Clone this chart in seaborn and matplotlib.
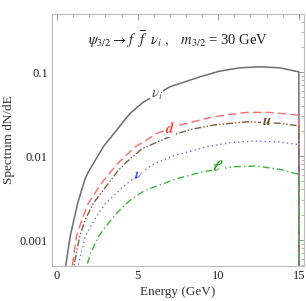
import numpy as np
import pandas as pd
import matplotlib
matplotlib.use("Agg")
import matplotlib.pyplot as plt
import seaborn as sns
from matplotlib.ticker import FixedLocator, NullFormatter, LogLocator

# ---- data (log10 of dN/dE) ----
END = -6.0  # spectrum vanishes beyond the kinematic endpoint E = 15 GeV

E_nui = [0.48, 0.54, 0.81, 1.28, 1.74, 1.94, 2.87, 4.53, 5.33, 7.00, 7.63, 8.87, 10.10, 11.35, 12.59, 13.82, 14.96, 15.0, 15.0]
L_nui = [-3.45, -3.306, -2.961, -2.563, -2.27, -2.19, -1.889, -1.492, -1.36, -1.175, -1.135, -1.056, -0.988, -0.949, -0.937, -0.949, -0.996, -0.998, END]

E_d = [0.90, 0.95, 1.20, 1.53, 1.94, 2.56, 2.85, 3.80, 4.85, 5.56, 6.18, 7.63, 9.69, 11.76, 13.20, 14.96, 15.0, 15.0]
L_d = [-3.45, -3.306, -2.961, -2.762, -2.563, -2.38, -2.30, -2.08, -1.889, -1.81, -1.73, -1.631, -1.532, -1.48, -1.48, -1.512, -1.513, END]

E_u = [1.00, 1.05, 1.40, 1.74, 2.25, 2.77, 3.29, 3.80, 4.32, 5.30, 6.49, 7.50, 8.25, 9.69, 11.76, 13.82, 14.96, 15.0, 15.0]
L_u = [-3.45, -3.306, -2.961, -2.762, -2.563, -2.43, -2.30, -2.17, -2.07, -1.91, -1.81, -1.73, -1.685, -1.631, -1.592, -1.61, -1.64, -1.641, END]

E_nu = [1.24, 1.30, 1.75, 2.30, 3.00, 4.22, 5.87, 7.32, 7.83, 9.28, 10.73, 12.17, 13.62, 14.76, 15.0, 15.0]
L_nu = [-3.45, -3.306, -2.961, -2.762, -2.563, -2.345, -2.107, -1.988, -1.968, -1.889, -1.841, -1.821, -1.829, -1.857, -1.865, END]

E_l = [1.76, 1.84, 2.10, 2.56, 3.18, 3.80, 4.50, 5.35, 6.28, 7.40, 9.07, 10.93, 12.38, 13.82, 14.76, 15.0, 15.0]
L_l = [-3.45, -3.306, -3.15, -2.961, -2.80, -2.66, -2.53, -2.42, -2.35, -2.27, -2.187, -2.127, -2.119, -2.158, -2.206, -2.215, END]

series = ["nu_i", "d", "u", "nu", "l"]
label_text = {"nu_i": r"$\nu_i$", "d": r"$\boldsymbol{d}$", "u": r"$\boldsymbol{u}$",
              "nu": r"$\boldsymbol{\nu}$", "l": r"$\boldsymbol{\ell}$"}
label_E = {"nu_i": 6.18, "d": 7.0, "u": 13.0, "nu": 5.04, "l": 10.0}
label_L = {"nu_i": -1.27, "d": -1.67, "u": -1.592, "nu": -2.226, "l": -2.127}

frames = []
for name, E, L in [("nu_i", E_nui, L_nui), ("d", E_d, L_d), ("u", E_u, L_u),
                   ("nu", E_nu, L_nu), ("l", E_l, L_l)]:
    frames.append(pd.DataFrame({"E": E, "dNdE": np.power(10.0, L), "channel": name}))
df = pd.concat(frames, ignore_index=True)

# ---- styles ----
colors = {"nu_i": "#6e6e6e", "d": "#ff6a6a", "u": "#7d5c3f", "nu": "#6c6cff", "l": "#3cb43c"}
text_colors = {"nu_i": "#555555", "d": "#ff4040", "u": "#6b4a2b", "nu": "#5050ff", "l": "#22a022"}
dashes = {"nu_i": None, "d": (0, (6, 3)), "u": (0, (5, 1.5, 1, 1.5, 1, 1.5)),
          "nu": (0, (1, 2.2)), "l": (0, (5, 2.2, 1, 2.2))}

sns.set_style("white")
plt.rcParams["font.family"] = ["Liberation Serif", "DejaVu Serif"]
plt.rcParams["mathtext.fontset"] = "stix"

fig = plt.figure(figsize=(3.06, 3.01), dpi=100)
ax = fig.add_axes([0.170, 0.116, 0.823, 0.837])

for name in series:
    sub = df[df["channel"] == name]
    sns.lineplot(data=sub, x="E", y="dNdE", ax=ax, estimator=None, sort=False,
                 color=colors[name], lw=1.1 if name == "nu_i" else 1.0, legend=False)
    ln = ax.get_lines()[-1]
    if dashes[name] is not None:
        ln.set_linestyle(dashes[name])

ax.set_yscale("log")
ax.set_xlim(-0.31, 15.31)
ax.set_ylim(10 ** -3.31, 10 ** -0.31)

for name in series:
    ax.text(label_E[name], 10 ** label_L[name], label_text[name], color=text_colors[name],
            fontsize=11, ha="center", va="center",
            bbox=dict(facecolor="white", edgecolor="none", pad=0.5))

ax.text(7.5, 0.245,
        r"$\psi_{3/2} \rightarrow f\ \ \overline{f}\ \ \nu_i\ ,\ \ \ m_{3/2}$ = 30 GeV",
        ha="center", va="center", fontsize=10.5, color="#222222")

# ticks & frame
ax.xaxis.set_major_locator(FixedLocator([0, 5, 10, 15]))
ax.xaxis.set_minor_locator(FixedLocator([v for v in np.arange(0, 15.01, 1.0) if v % 5 != 0]))
ax.yaxis.set_major_locator(FixedLocator([0.001, 0.01, 0.1]))
ax.yaxis.set_minor_locator(LogLocator(base=10, subs=np.arange(2, 10)))
ax.yaxis.set_minor_formatter(NullFormatter())
ax.set_yticklabels(["0.001", "0.01", "0.1"])
ax.set_xticklabels(["0", "5", "10", "15"])
ax.tick_params(which="both", direction="in", top=True, right=True, colors="#999999",
               labelcolor="#222222", labelsize=9, pad=3)
ax.tick_params(which="major", length=4, width=0.7)
ax.tick_params(which="minor", length=2, width=0.5)
for sp in ax.spines.values():
    sp.set_color("#bbbbbb")
    sp.set_linewidth(0.8)

ax.set_xlabel("Energy (GeV)", fontsize=9.5, color="#333333", labelpad=3)
ax.set_ylabel("Spectrum dN/dE", fontsize=9.5, color="#333333", labelpad=3)

fig.savefig("out.png", dpi=100)
